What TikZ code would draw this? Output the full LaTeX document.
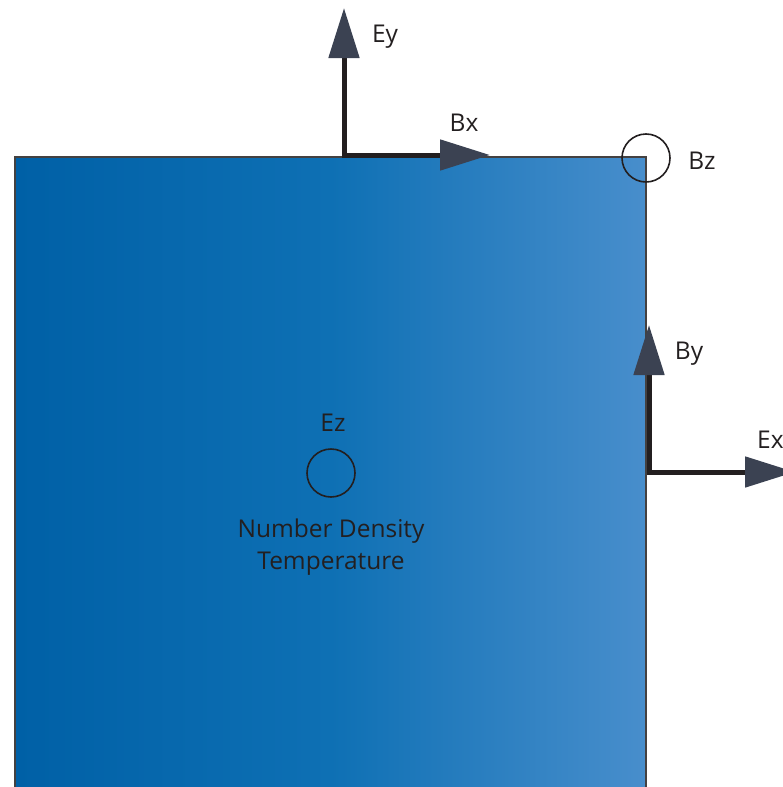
\documentclass[tikz,border=0pt]{standalone}
\usepackage{fontspec}
\setmainfont{Open Sans}
\usetikzlibrary{arrows.meta}
\definecolor{ink}{HTML}{231F20}
\definecolor{headfill}{HTML}{3B4252}
\definecolor{blueL}{RGB}{0,96,166}
\definecolor{blueM}{RGB}{14,112,180}
\definecolor{blueR}{RGB}{72,142,204}
\tikzset{
  lbl/.style={text=ink, font=\fontsize{24.5}{28}\selectfont, inner sep=0pt},
  vec2/.style={draw=ink, line width=5pt, line join=miter,
    arrows={Triangle[length=50pt,width=30pt,fill=headfill,color=headfill]-Triangle[length=50pt,width=30pt,fill=headfill,color=headfill]}},
  ring/.style={circle, draw=ink, line width=1.6pt, minimum size=48pt, inner sep=0pt}
}
\begin{document}
\begin{tikzpicture}[x=1pt,y=-1pt]
\useasboundingbox (0,0) rectangle (783,787);
\clip (0,0) rectangle (783,787);
% cell
\shade[left color=blueL, right color=blueR, middle color=blueM] (15,157) rectangle (646,800);
\draw[draw=ink!85, line width=1.8pt] (15,800) -- (15,157) -- (646,157) -- (646,800);
% coordinates
\coordinate (c1) at (344,155);
\coordinate (eyTip) at (344,8);
\coordinate (bxTip) at (490,155);
\coordinate (c2) at (649,472);
\coordinate (byTip) at (649,325);
\coordinate (exTip) at (795,472);
\draw[vec2] (eyTip) -- (c1) -- (bxTip);
\draw[vec2] (byTip) -- (c2) -- (exTip);
% rings
\node[ring] (bz) at (646,158) {};
\node[ring] (ez) at (331,473) {};
% labels
\node[lbl] (ey) at (385,37) {Ey};
\node[lbl] (bx) at (464,123) {Bx};
\node[lbl] (bzl) at (702,161) {Bz};
\node[lbl] (by) at (689,354) {By};
\node[lbl, anchor=west] (ex) at (757,440) {Ex};
\node[lbl] (ezl) at (333,423) {Ez};
\node[lbl] (nd) at (331,531) {Number Density};
\node[lbl] (tp) at (331,564) {Temperature};
\end{tikzpicture}
\end{document}
